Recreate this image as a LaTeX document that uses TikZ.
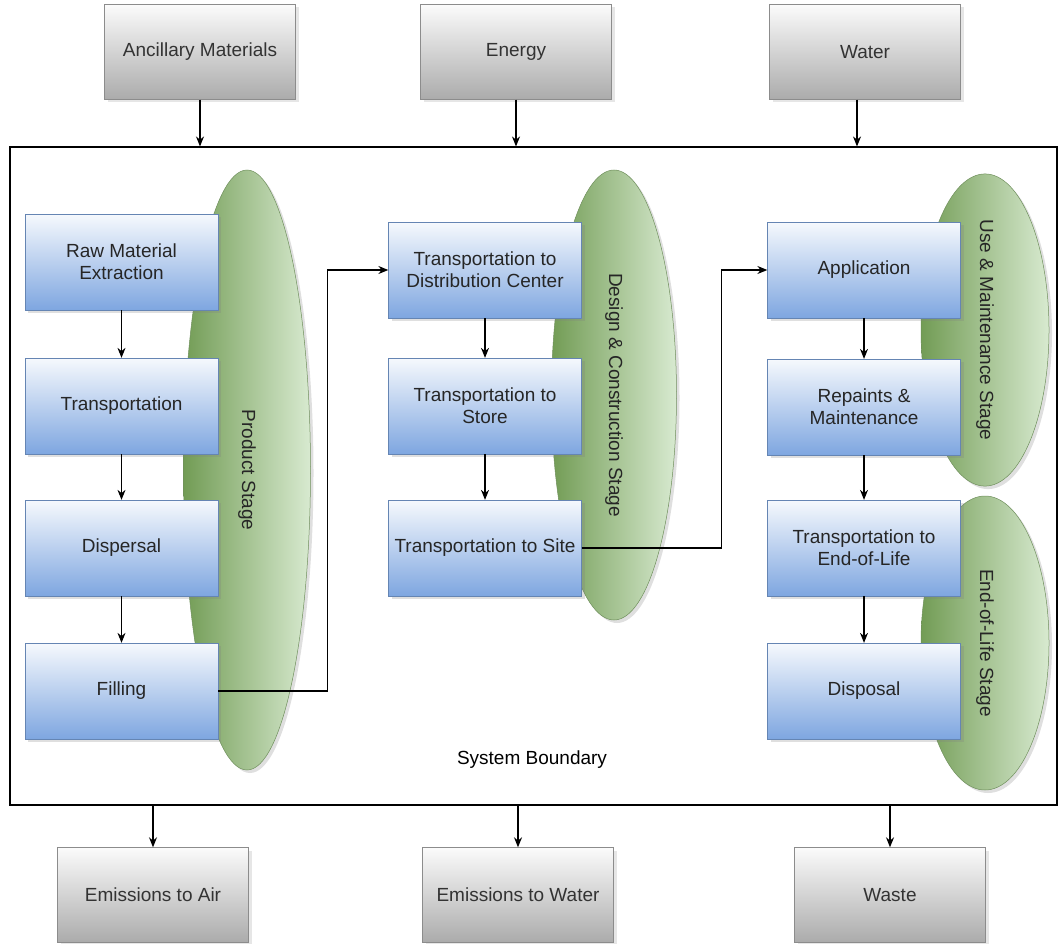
\documentclass[tikz,border=0pt]{standalone}
\usepackage{fontspec}
\setmainfont{Liberation Sans}
\usetikzlibrary{arrows.meta,shapes.geometric,shadows}
\definecolor{boxtop}{HTML}{F6F9FD}
\definecolor{boxmid}{HTML}{B5CDEF}
\definecolor{boxbot}{HTML}{7EA6E0}
\definecolor{graytop}{HTML}{FBFBFB}
\definecolor{graymid}{HTML}{DCDCDC}
\definecolor{graybot}{HTML}{ABABAB}
\definecolor{stagedark}{HTML}{729C55}
\definecolor{stagelight}{HTML}{D8EAD0}
\definecolor{stageline}{HTML}{6F8F5C}
\tikzset{
	flowbox/.style={rectangle, minimum width=193pt, minimum height=96pt, inner sep=2pt, align=center,
		top color=boxtop, middle color=boxmid, bottom color=boxbot, draw=boxbot!80!black, line width=0.3pt,
		text=black!85, drop shadow={shadow xshift=3pt, shadow yshift=-3pt, opacity=0.25}},
	inbox/.style={rectangle, minimum width=191pt, minimum height=95pt, inner sep=2pt, align=center,
		top color=graytop, middle color=graymid, bottom color=graybot, draw=black!45, line width=0.4pt,
		text=black!80, drop shadow={shadow xshift=3pt, shadow yshift=-3pt, opacity=0.2}},
	stageoval/.style={ellipse, inner sep=0pt, rotate=-90, draw=stageline, line width=0.5pt,
		left color=stagedark, right color=stagelight, text=black!85,
		drop shadow={shadow xshift=3pt, shadow yshift=-3pt, opacity=0.25}},
	flowarrow/.style={line width=1.1pt, -{Stealth[length=10pt, width=8pt]}}
}

\begin{document}
\begin{tikzpicture}[x=1pt, y=-1pt, font=\fontsize{19}{22}\selectfont]
	%%%%% START %%%%%
	\useasboundingbox (0,0) rectangle (1059,944);
	
	% inputs
	\node[inbox] (anc) at (200, 52) {Ancillary Materials};
	\node[inbox] (energy) at (516, 52) {Energy};
	\node[inbox] (water) at (865, 52) {Water};
	
	% system boundary
	\node[draw, line width=1.1pt, inner sep=0pt, minimum width=1047pt, minimum height=658pt] (bnd) at (533.5, 476) {};
	\node (bndlabel) at (532, 760) {System Boundary};
	
	\draw[flowarrow] (anc.south) -- (anc.south |- bnd.north);
	\draw[flowarrow] (energy.south) -- (energy.south |- bnd.north);
	\draw[flowarrow] (water.south) ++(-8, 0) coordinate (waterout) -- (waterout |- bnd.north);
	
	% stages
	\node[stageoval, minimum width=600pt, minimum height=127pt] (prodstage) at (247, 470) {Product Stage};
	\node[stageoval, minimum width=450pt, minimum height=125pt] (desstage) at (614, 395) {Design \& Construction Stage};
	\node[stageoval, minimum width=298pt, minimum height=128pt] (usestage) at (985, 330) {Use \& Maintenance Stage};
	\node[stageoval, minimum width=294pt, minimum height=128pt] (eolstage) at (985, 643) {End-of-Life Stage};
	
	% product stage
	\node[flowbox] (raw) at (121.5, 262) {Raw Material\\Extraction};
	\node[flowbox] (trans) at (121.5, 406) {Transportation};
	\node[flowbox] (disp) at (121.5, 548) {Dispersal};
	\node[flowbox] (fill) at (121.5, 691) {Filling};
	
	\draw[flowarrow] (raw.south) -- (trans.north);
	\draw[flowarrow] (trans.south) -- (disp.north);
	\draw[flowarrow] (disp.south) -- (fill.north);
	
	% design & construction stage
	\node[flowbox] (tdc) at (485, 270) {Transportation to\\Distribution Center};
	\node[flowbox] (tstore) at (485, 406) {Transportation to\\Store};
	\node[flowbox] (tsite) at (485, 548) {Transportation to Site};
	
	\draw[flowarrow] (tdc.south) -- (tstore.north);
	\draw[flowarrow] (tstore.south) -- (tsite.north);
	
	% use and end of life
	\node[flowbox] (app) at (864, 270) {Application};
	\node[flowbox] (repaint) at (864, 407) {Repaints \&\\Maintenance};
	\node[flowbox] (teol) at (864, 548) {Transportation to\\End-of-Life};
	\node[flowbox] (disposal) at (864, 691) {Disposal};
	
	\draw[flowarrow] (app.south) -- (repaint.north);
	\draw[flowarrow] (repaint.south) -- (teol.north);
	\draw[flowarrow] (teol.south) -- (disposal.north);
	
	% links between stages
	\draw[flowarrow] (fill.east) -- ++(109, 0) |- (tdc.west);
	\draw[flowarrow] (tsite.east) -- ++(140, 0) |- (app.west);
	
	% outputs
	\node[inbox] (air) at (153, 895) {Emissions to Air};
	\node[inbox] (waterem) at (518, 895) {Emissions to Water};
	\node[inbox] (waste) at (890, 895) {Waste};
	
	\draw[flowarrow] (air.north |- bnd.south) -- (air.north);
	\draw[flowarrow] (waterem.north |- bnd.south) -- (waterem.north);
	\draw[flowarrow] (waste.north |- bnd.south) -- (waste.north);
	
	%%%%% END %%%%%
\end{tikzpicture}
\end{document}
